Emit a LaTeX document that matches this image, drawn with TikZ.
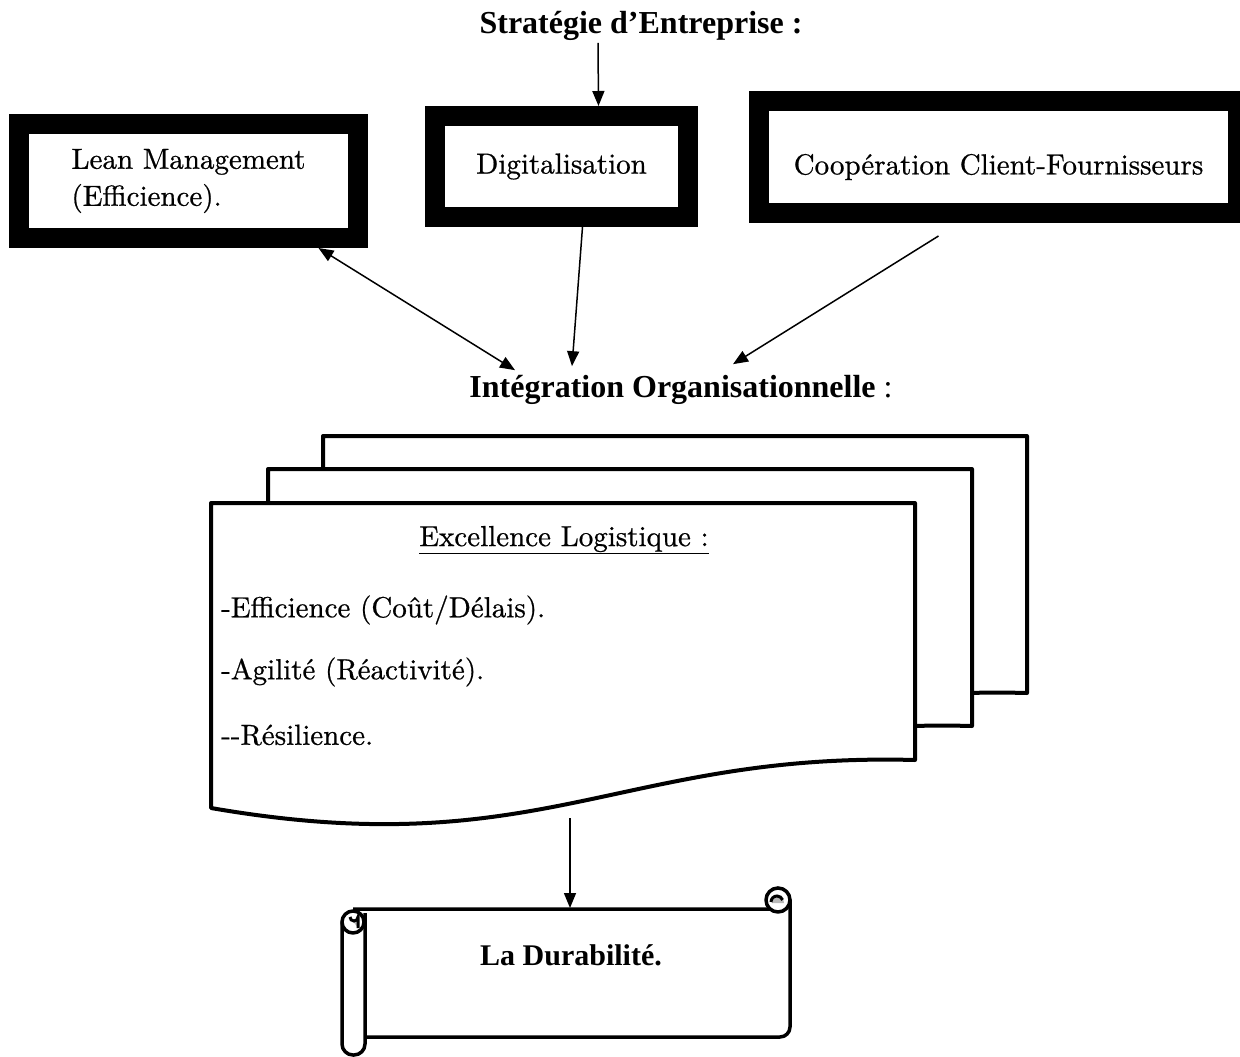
\documentclass[tikz,border=0pt]{standalone}
\usepackage{fontspec}
\newfontfamily\timesfont{Liberation Serif}
\newfontface\bodyface{lmroman10-regular.otf}[FakeBold=0.7]
\usetikzlibrary{arrows.meta,positioning}

\tikzset{
  thickbox/.style={draw, line width=20pt, outer sep=10pt, inner sep=0pt,
    font=\bodyface\fontsize{29}{37}\selectfont},
  arr/.style={line width=1.5pt, -{Triangle[length=15pt,width=12pt]}},
  darr/.style={line width=1.5pt,
    {Triangle[length=15pt,width=12pt]}-{Triangle[length=15pt,width=12pt]}},
  boldlabel/.style={font=\timesfont\bfseries\fontsize{32}{36}\selectfont, inner sep=2pt},
  bodytext/.style={anchor=west, inner sep=0pt, font=\bodyface\fontsize{29}{34}\selectfont},
  page/.style={draw, fill=white, line width=4pt, line join=round},
  scroll/.style={draw, fill=white, line width=3.5pt, line join=round},
}

\begin{document}
\begin{tikzpicture}[x=1pt,y=-1pt]
\useasboundingbox (0,0) rectangle (1240,1057);

% titre
\node[boldlabel] (title) at (641,26) {Stratégie d’Entreprise :};

% les trois leviers
\node[thickbox, minimum width=339pt, minimum height=114pt, align=left] (lean) at (188.5,181)
  {Lean Management\\(Efficience).};
\node[thickbox, minimum width=253pt, minimum height=101pt] (digit) at (561.5,166.5)
  {Digitalisation};
\node[thickbox, minimum width=479pt, minimum height=112pt] (coop) at (998.5,157)
  {\raisebox{-10pt}[\height][\depth]{Coopération Client-Fournisseurs}};

% integration
\node[boldlabel] (integ) at (681,390) {Intégration Organisationnelle {\mdseries :}};

\draw[arr] ([xshift=-43pt]title.south) -- ([xshift=37pt]digit.north);
\draw[darr] ([xshift=130pt]lean.south) -- ([xshift=-166pt,yshift=3pt]integ.north);
\draw[arr] ([xshift=21pt]digit.south) -- ([xshift=-109pt,yshift=7pt]integ.north);
\draw[arr] ([xshift=-60pt,yshift=-13pt]coop.south) -- ([xshift=52pt,yshift=9pt]integ.north);

% pile de documents
\foreach \dx/\dy in {112/-67, 57/-34, 0/0}
  \draw[page, shift={(\dx,\dy)}] (211,503) -- (915,503) -- (915,760)
    .. controls (620,752) and (540,865) .. (211,808) -- cycle;

\node[font=\bodyface\fontsize{29}{34}\selectfont, inner sep=0pt] (excel) at (564,540)
  {\underline{Excellence Logistique :}};
\node[bodytext] (effic) at (221,610) {-Efficience (Coût/Délais).};
\node[bodytext] (agil) at (221,672) {-Agilité (Réactivité).};
\node[bodytext] (resil) at (221,735) {-{}-Résilience.};

% parchemin
\draw[scroll] (353,909) -- (778,909) -- (778,888) -- (790,900) -- (790,1027)
  arc (0:90:10) -- (365,1037) -- (365,913);
\draw[scroll] (778,900) circle (12);
\fill[gray!55] (772,903) arc (180:360:6) -- cycle;
\draw[line width=3pt] (771,902) arc (180:340:6);
\draw[scroll, rounded corners=11pt] (342,913) rectangle (365,1055);
\draw[scroll] (353,922) circle (11);
\draw[line width=3pt, fill=gray!55] (350,917) arc (180:0:4) -- (358,928);

\node[boldlabel, font=\timesfont\bfseries\fontsize{30}{34}\selectfont] (durab) at (571,955) {La Durabilité.};

\coordinate (docbot) at (570,818);
\coordinate (scrolltop) at (570,908);
\draw[arr] (docbot) -- (scrolltop);
\end{tikzpicture}
\end{document}
